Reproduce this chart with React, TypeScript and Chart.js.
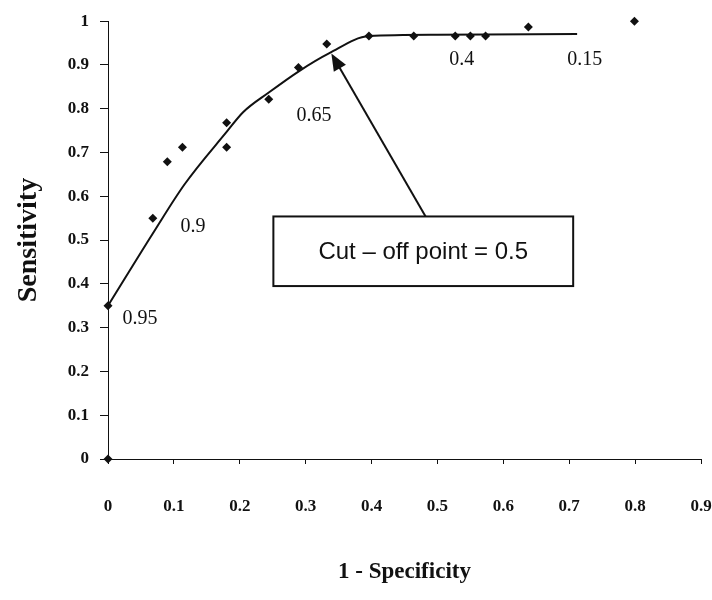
import React, { useEffect, useRef } from 'react';
import { Chart, registerables } from 'chart.js';
Chart.register(...registerables);

// Observed ROC points (1 - specificity, sensitivity)
const pointX = [0, 0, 0.068, 0.09, 0.113, 0.18, 0.18, 0.244, 0.289, 0.332, 0.396, 0.464, 0.527, 0.55, 0.573, 0.638, 0.799];
const pointY = [0, 0.35, 0.55, 0.679, 0.712, 0.768, 0.712, 0.822, 0.894, 0.948, 0.966, 0.966, 0.966, 0.966, 0.966, 0.987, 1.0];

// Fitted ROC curve
const curveX = [0, 0.068, 0.116, 0.18, 0.205, 0.244, 0.289, 0.336, 0.396, 0.5, 0.712];
const curveY = [0.35, 0.515, 0.627, 0.747, 0.792, 0.837, 0.885, 0.927, 0.966, 0.969, 0.971];

// Cut-off labels along the curve
const cutoffLabels = ['0.95', '0.9', '0.65', '0.4', '0.15'];
const cutoffLabelX = [0.022, 0.11, 0.286, 0.518, 0.697];
const cutoffLabelY = [0.32, 0.53, 0.784, 0.912, 0.912];

// Annotation box and arrow (data coordinates)
const boxText = 'Cut \u2013 off point = 0.5';
const boxX = [0.251, 0.706];
const boxY = [0.395, 0.554];
const arrowFrom = [0.482, 0.554];
const arrowTo = [0.339, 0.926];

const xTitle = '1 - Specificity';
const yTitle = 'Sensitivity';

const SERIF = '"Liberation Serif", "Times New Roman", serif';
const SANS = '"Liberation Sans", Arial, sans-serif';

const annotationPlugin = {
  id: 'rocAnnotations',
  afterDatasetsDraw(chart: any) {
    const { ctx, scales } = chart;
    const xs = scales.x;
    const ys = scales.y;
    ctx.save();
    ctx.fillStyle = '#111';
    ctx.font = `20px ${SERIF}`;
    ctx.textAlign = 'left';
    ctx.textBaseline = 'middle';
    cutoffLabels.forEach((t, i) => {
      ctx.fillText(t, xs.getPixelForValue(cutoffLabelX[i]), ys.getPixelForValue(cutoffLabelY[i]));
    });
    const x1 = xs.getPixelForValue(arrowFrom[0]);
    const y1 = ys.getPixelForValue(arrowFrom[1]);
    const x2 = xs.getPixelForValue(arrowTo[0]);
    const y2 = ys.getPixelForValue(arrowTo[1]);
    const ang = Math.atan2(y2 - y1, x2 - x1);
    const headLen = 17;
    const headW = 7;
    ctx.strokeStyle = '#111';
    ctx.lineWidth = 2;
    ctx.beginPath();
    ctx.moveTo(x1, y1);
    ctx.lineTo(x2 - Math.cos(ang) * headLen * 0.8, y2 - Math.sin(ang) * headLen * 0.8);
    ctx.stroke();
    const bx = x2 - Math.cos(ang) * headLen;
    const by = y2 - Math.sin(ang) * headLen;
    ctx.beginPath();
    ctx.moveTo(x2, y2);
    ctx.lineTo(bx + Math.sin(ang) * headW, by - Math.cos(ang) * headW);
    ctx.lineTo(bx - Math.sin(ang) * headW, by + Math.cos(ang) * headW);
    ctx.closePath();
    ctx.fillStyle = '#111';
    ctx.fill();
    const l = xs.getPixelForValue(boxX[0]);
    const r = xs.getPixelForValue(boxX[1]);
    const t = ys.getPixelForValue(boxY[1]);
    const b = ys.getPixelForValue(boxY[0]);
    ctx.fillStyle = '#fff';
    ctx.fillRect(l, t, r - l, b - t);
    ctx.lineWidth = 2;
    ctx.strokeStyle = '#111';
    ctx.strokeRect(l, t, r - l, b - t);
    ctx.fillStyle = '#111';
    ctx.font = `24px ${SANS}`;
    ctx.textAlign = 'center';
    ctx.textBaseline = 'middle';
    ctx.fillText(boxText, (l + r) / 2, (t + b) / 2 + 1);
    ctx.restore();
  },
};

export default function App() {
  const ref = useRef<HTMLCanvasElement>(null);
  useEffect(() => {
    if (!ref.current) return;
    const chart = new Chart(ref.current, {
      type: 'scatter',
      data: {
        datasets: [
          {
            type: 'line',
            data: curveX.map((x, i) => ({ x, y: curveY[i] })),
            borderColor: '#111',
            borderWidth: 2,
            pointRadius: 0,
            cubicInterpolationMode: 'monotone',
            fill: false,
            clip: false,
          } as any,
          {
            type: 'scatter',
            data: pointX.map((x, i) => ({ x, y: pointY[i] })),
            pointStyle: 'rectRot',
            pointRadius: 4.5,
            backgroundColor: '#111',
            borderColor: '#111',
            borderWidth: 0,
            clip: false,
          } as any,
        ],
      },
      options: {
        responsive: false,
        maintainAspectRatio: false,
        animation: false,
        layout: { padding: { top: 14, right: 11, left: 0, bottom: 0 } },
        plugins: { legend: { display: false }, tooltip: { enabled: false } },
        scales: {
          x: {
            type: 'linear',
            min: 0,
            max: 0.9,
            afterFit: (s: any) => {
              s.height = 141;
              s.paddingRight = 0;
              s.paddingLeft = 0;
            },
            ticks: {
              stepSize: 0.1,
              color: '#111',
              padding: 32,
              font: { family: SERIF, size: 17, weight: 'bold' },
              maxRotation: 0,
              callback: (v: any) => String(Math.round(Number(v) * 10) / 10),
            },
            grid: { drawOnChartArea: false, tickLength: 5, color: '#111' },
            border: { display: true, color: '#111', width: 1 },
            title: {
              display: true,
              text: xTitle,
              color: '#111',
              font: { family: SERIF, size: 23, weight: 'bold' },
              padding: { top: 14, bottom: 14 },
            },
          },
          y: {
            type: 'linear',
            min: 0,
            max: 1,
            afterFit: (s: any) => { s.width = 108; },
            ticks: {
              stepSize: 0.1,
              color: '#111',
              padding: 11,
              font: { family: SERIF, size: 17, weight: 'bold' },
              callback: (v: any) => String(Math.round(Number(v) * 10) / 10),
            },
            grid: { drawOnChartArea: false, tickLength: 8, color: '#111' },
            border: { display: true, color: '#111', width: 1 },
            title: {
              display: true,
              text: yTitle,
              color: '#111',
              font: { family: SERIF, size: 28, weight: 'bold' },
              padding: { top: 12, bottom: 12 },
            },
          },
        },
      },
      plugins: [annotationPlugin],
    } as any);
    return () => chart.destroy();
  }, []);
  return (
    <div style={{ position: 'fixed', left: 0, top: 0, width: 712, height: 600, background: '#fff' }}>
      <canvas ref={ref} width={712} height={600} style={{ display: 'block' }} />
    </div>
  );
}
